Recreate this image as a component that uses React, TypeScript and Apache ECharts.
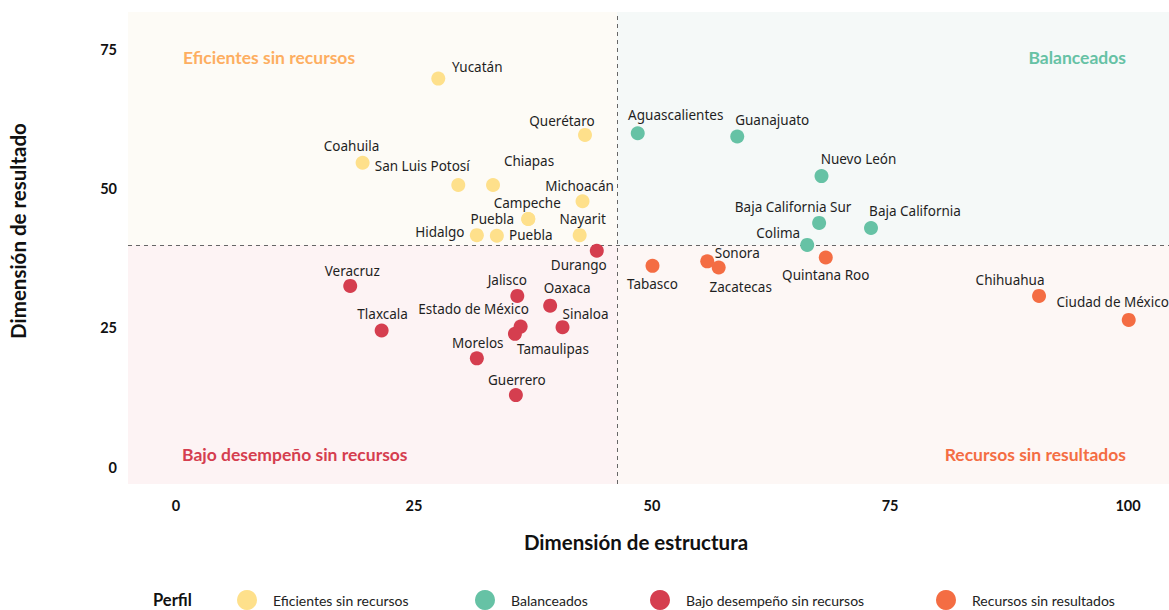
import React, { useEffect, useRef } from "react";
import * as echarts from "echarts";

// ---------- data ----------
const eficientesNames = ["Yucatán", "Querétaro", "Coahuila", "San Luis Potosí", "Chiapas", "Michoacán", "Campeche", "Puebla", "Hidalgo", "Puebla", "Nayarit"];
const eficientesX = [27.55, 42.96, 19.6, 29.65, 33.3, 42.7, 37.0, 37.0, 31.6, 33.7, 42.4];
const eficientesY = [69.7, 59.6, 54.6, 50.6, 50.6, 47.7, 44.5, 44.5, 41.6, 41.5, 41.6];

const balanceadosNames = ["Aguascalientes", "Guanajuato", "Nuevo León", "Baja California Sur", "Baja California", "Colima"];
const balanceadosX = [48.5, 58.95, 67.8, 67.55, 73.0, 66.3];
const balanceadosY = [59.9, 59.3, 52.2, 43.8, 42.9, 39.85];

const bajoNames = ["Durango", "Veracruz", "Jalisco", "Oaxaca", "Tlaxcala", "Estado de México", "Tamaulipas", "Sinaloa", "Morelos", "Guerrero"];
const bajoX = [44.2, 18.3, 35.85, 39.3, 21.6, 36.2, 35.6, 40.6, 31.6, 35.7];
const bajoY = [38.8, 32.5, 30.7, 28.95, 24.5, 25.2, 23.9, 25.1, 19.5, 12.9];

const recursosNames = ["Tabasco", "Sonora", "Zacatecas", "Quintana Roo", "Chihuahua", "Ciudad de México"];
const recursosX = [50.05, 55.8, 57.0, 68.25, 90.65, 100.07];
const recursosY = [36.1, 36.9, 35.8, 37.6, 30.7, 26.4];

const groupNames = ["Eficientes sin recursos", "Balanceados", "Bajo desempeño sin recursos", "Recursos sin resultados"];
const xTicks = [0, 25, 50, 75, 100];
const yTicks = [0, 25, 50, 75];
const xCut = 46.32;
const yCut = 39.85;

// ---------- label placement (pixel offsets from each point) ----------
const eficientesOffsets = [[39, -12], [-23, -14], [-11, -17], [-36, -19], [36, -24], [-3, -15], [-1, -16], [-36, 0], [-37, -3], [34, -1], [3, -16]];
const balanceadosOffsets = [[38, -18], [35, -17], [37, -17], [-26, -16], [44, -17], [-29, -12]];
const bajoOffsets = [[-18, 14], [2, -15], [-10, -16], [17, -18], [1, -16], [-47, -18], [38, 15], [23, -13], [1, -15], [1, -15]];
const recursosOffsets = [[0, 18], [30, -8], [22, 19], [0, 18], [-29, -16], [-16, -18]];

const colors = ["#fee08b", "#66c2a5", "#d53e4f", "#f46d43"];
const titleColors = ["#fdae61", "#66c2a5", "#d53e4f", "#f46d43"];

const X_MIN = -5.04;
const X_MAX = 104.3;
const Y_MIN = -3.05;
const Y_MAX = 81.65;

function buildSeries(name: string, names: string[], xs: number[], ys: number[], offsets: number[][], color: string) {
  return {
    name,
    type: "scatter",
    symbol: "circle",
    symbolSize: 14,
    z: 3,
    itemStyle: { color, opacity: 1 },
    data: names.map((n, i) => ({
      name: n,
      value: [xs[i], ys[i]],
      label: { offset: offsets[i] },
    })),
    label: {
      show: true,
      position: "inside",
      align: "center",
      verticalAlign: "middle",
      formatter: (p: any) => p.name,
      fontFamily: "Noto Sans",
      fontSize: 13.5,
      color: "#1f1f1f",
    },
    emphasis: { disabled: true },
  };
}

export default function App() {
  const ref = useRef<HTMLDivElement>(null);

  useEffect(() => {
    if (!ref.current) return;
    const chart = echarts.init(ref.current, undefined, { renderer: "svg" });

    const legendLefts = [232, 470, 645, 931];

    const option: any = {
      animation: false,
      backgroundColor: "#ffffff",
      grid: { left: 128, right: 0, top: 12, bottom: 126, outerBoundsMode: "none" },
      xAxis: {
        type: "value",
        min: X_MIN,
        max: X_MAX,
        axisLine: { show: false },
        axisTick: { show: false },
        splitLine: { show: false },
        axisLabel: {
          customValues: xTicks,
          fontFamily: "Lato",
          fontWeight: "bold",
          fontSize: 14.5,
          color: "#111",
          margin: 14,
        },
      },
      yAxis: {
        type: "value",
        min: Y_MIN,
        max: Y_MAX,
        axisLine: { show: false },
        axisTick: { show: false },
        splitLine: { show: false },
        axisLabel: {
          customValues: yTicks,
          fontFamily: "Lato",
          fontWeight: "bold",
          fontSize: 14.5,
          color: "#111",
          margin: 11,
        },
      },
      legend: groupNames.map((g, i) => ({
        data: [g],
        left: legendLefts[i],
        top: 585,
        itemWidth: 20,
        itemHeight: 20,
        icon: "circle",
        selectedMode: false,
        textStyle: { fontFamily: "Lato", fontSize: 14, color: "#222", padding: [0, 0, 0, 11] },
      })),
      graphic: [
        { type: "text", z: 100, left: 183, top: 48, style: { text: "Eficientes sin recursos", fill: titleColors[0], font: "bold 17.5px Lato" } },
        { type: "text", z: 100, right: 43, top: 48, style: { text: "Balanceados", fill: titleColors[1], font: "bold 17.5px Lato" } },
        { type: "text", z: 100, left: 182, top: 445, style: { text: "Bajo desempeño sin recursos", fill: titleColors[2], font: "bold 17.5px Lato" } },
        { type: "text", z: 100, right: 43, top: 445, style: { text: "Recursos sin resultados", fill: titleColors[3], font: "bold 17.5px Lato" } },
        { type: "text", z: 100, x: 636, y: 542, style: { text: "Dimensión de estructura", fill: "#111", font: "bold 20.5px Lato", align: "center", verticalAlign: "middle" } },
        { type: "text", z: 100, x: 18, y: 231, rotation: Math.PI / 2, style: { text: "Dimensión de resultado", fill: "#111", font: "bold 20.5px Lato", align: "center", verticalAlign: "middle" } },
        { type: "text", z: 100, x: 153, y: 600, style: { text: "Perfil", fill: "#111", font: "bold 16.5px Lato", verticalAlign: "middle" } },
      ],
      series: [
        {
          name: "background",
          type: "scatter",
          data: [],
          z: 1,
          silent: true,
          markArea: {
            silent: true,
            z: 1,
            data: [
              [{ xAxis: X_MIN, yAxis: yCut, itemStyle: { color: "#fdfbf6" } }, { xAxis: xCut, yAxis: Y_MAX }],
              [{ xAxis: xCut, yAxis: yCut, itemStyle: { color: "#f5f9f8" } }, { xAxis: X_MAX, yAxis: Y_MAX }],
              [{ xAxis: X_MIN, yAxis: Y_MIN, itemStyle: { color: "#fdf3f4" } }, { xAxis: xCut, yAxis: yCut }],
              [{ xAxis: xCut, yAxis: Y_MIN, itemStyle: { color: "#fdf7f5" } }, { xAxis: X_MAX, yAxis: yCut }],
            ],
          },
          markLine: {
            silent: true,
            z: 2,
            symbol: "none",
            label: { show: false },
            lineStyle: { color: "#666", type: [4, 4], width: 1 },
            data: [{ xAxis: xCut }, { yAxis: yCut }],
          },
        },
        buildSeries(groupNames[0], eficientesNames, eficientesX, eficientesY, eficientesOffsets, colors[0]),
        buildSeries(groupNames[1], balanceadosNames, balanceadosX, balanceadosY, balanceadosOffsets, colors[1]),
        buildSeries(groupNames[2], bajoNames, bajoX, bajoY, bajoOffsets, colors[2]),
        buildSeries(groupNames[3], recursosNames, recursosX, recursosY, recursosOffsets, colors[3]),
      ],
    };

    chart.setOption(option);
    return () => chart.dispose();
  }, []);

  return (
    <div
      ref={ref}
      style={{ position: "fixed", left: 0, top: 0, width: 1169, height: 610, background: "#fff" }}
    />
  );
}
